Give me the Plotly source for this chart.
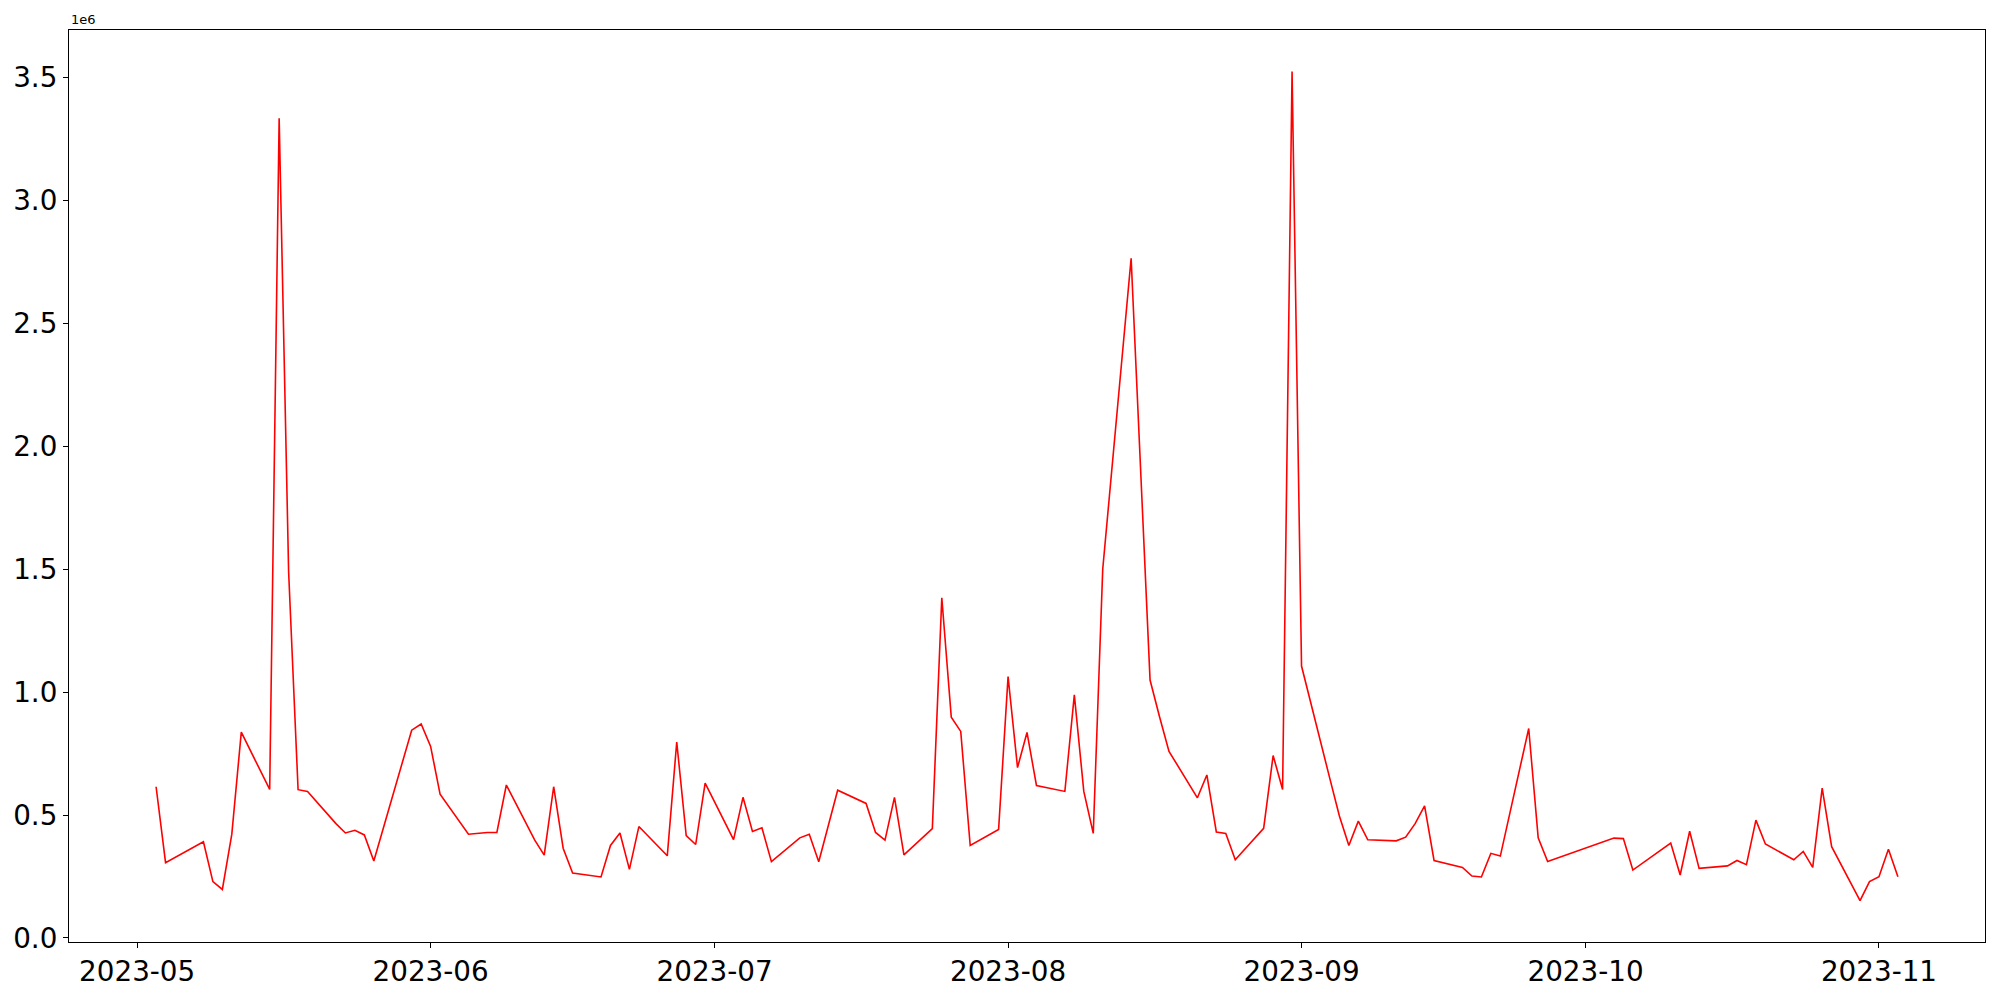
import pandas as pd
import plotly.graph_objects as go

dates = [
    "2023-05-03", "2023-05-04", "2023-05-08", "2023-05-09", "2023-05-10", "2023-05-11", "2023-05-12",
    "2023-05-15", "2023-05-16", "2023-05-17", "2023-05-18", "2023-05-19", "2023-05-22", "2023-05-23",
    "2023-05-24", "2023-05-25", "2023-05-26", "2023-05-30", "2023-05-31",
    "2023-06-01", "2023-06-02", "2023-06-05", "2023-06-07", "2023-06-08", "2023-06-09", "2023-06-12",
    "2023-06-13", "2023-06-14", "2023-06-15", "2023-06-16", "2023-06-19", "2023-06-20", "2023-06-21",
    "2023-06-22", "2023-06-23", "2023-06-26", "2023-06-27", "2023-06-28", "2023-06-29", "2023-06-30",
    "2023-07-03", "2023-07-04", "2023-07-05", "2023-07-06", "2023-07-07", "2023-07-10", "2023-07-11",
    "2023-07-12", "2023-07-13", "2023-07-14", "2023-07-17", "2023-07-18", "2023-07-19", "2023-07-20",
    "2023-07-21", "2023-07-24", "2023-07-25", "2023-07-26", "2023-07-27", "2023-07-28", "2023-07-31",
    "2023-08-01", "2023-08-02", "2023-08-03", "2023-08-04", "2023-08-07", "2023-08-08", "2023-08-09",
    "2023-08-10", "2023-08-11", "2023-08-14", "2023-08-16", "2023-08-17", "2023-08-18", "2023-08-21",
    "2023-08-22", "2023-08-23", "2023-08-24", "2023-08-25", "2023-08-28", "2023-08-29", "2023-08-30",
    "2023-08-31",
    "2023-09-01", "2023-09-04", "2023-09-05", "2023-09-06", "2023-09-07", "2023-09-08", "2023-09-11",
    "2023-09-12", "2023-09-13", "2023-09-14", "2023-09-15", "2023-09-18", "2023-09-19", "2023-09-20",
    "2023-09-21", "2023-09-22", "2023-09-25", "2023-09-26", "2023-09-27",
    "2023-10-04", "2023-10-05", "2023-10-06", "2023-10-10", "2023-10-11", "2023-10-12", "2023-10-13",
    "2023-10-16", "2023-10-17", "2023-10-18", "2023-10-19", "2023-10-20", "2023-10-23", "2023-10-24",
    "2023-10-25", "2023-10-26", "2023-10-27", "2023-10-30", "2023-10-31",
    "2023-11-01", "2023-11-02", "2023-11-03",
]

values = [
    615000, 306000, 391000, 229000, 197000, 422000, 837000,
    604000, 3335000, 1490000, 603000, 596000, 465000, 427000,
    438000, 419000, 313000, 845000, 870000,
    779000, 585000, 422000, 429000, 429000, 622000, 398000,
    337000, 615000, 365000, 264000, 248000, 376000, 427000,
    279000, 453000, 334000, 797000, 416000, 380000, 630000,
    400000, 572000, 433000, 448000, 310000, 407000, 422000,
    310000, 455000, 601000, 547000, 429000, 398000, 572000,
    338000, 445000, 1384000, 898000, 840000, 376000, 441000,
    1063000, 693000, 836000, 620000, 596000, 989000, 596000,
    425000, 1500000, 2765000, 1049000, 900000, 759000, 570000,
    663000, 431000, 425000, 318000, 446000, 742000, 604000,
    3525000,
    1106000, 647000, 496000, 376000, 475000, 399000, 395000,
    410000, 465000, 537000, 315000, 287000, 252000, 248000,
    344000, 333000, 852000, 407000, 311000,
    406000, 404000, 276000, 386000, 256000, 434000, 283000,
    293000, 315000, 298000, 479000, 382000, 318000, 352000,
    287000, 609000, 371000, 152000, 229000,
    249000, 361000, 249000,
]

x_tick_dates = ["2023-05-01", "2023-06-01", "2023-07-01", "2023-08-01",
                "2023-09-01", "2023-10-01", "2023-11-01"]
x_tick_labels = ["2023-05", "2023-06", "2023-07", "2023-08", "2023-09", "2023-10", "2023-11"]
y_tick_values = [0, 500000, 1000000, 1500000, 2000000, 2500000, 3000000, 3500000]
y_tick_labels = ["0.0", "0.5", "1.0", "1.5", "2.0", "2.5", "3.0", "3.5"]
offset_label = "1e6"

x = pd.to_datetime(dates)
xmin, xmax = x.min(), x.max()
xpad = (xmax - xmin) * 0.05
ymin, ymax = min(values), max(values)
ypad = (ymax - ymin) * 0.05

fig = go.Figure()
fig.add_trace(go.Scatter(
    x=x, y=values, mode="lines",
    line=dict(color="red", width=1.6),
    showlegend=False, hoverinfo="x+y",
))

font_family = "DejaVu Sans"
axis_common = dict(
    showgrid=False, zeroline=False,
    showline=True, linecolor="black", linewidth=1.1, mirror=True,
    ticks="outside", ticklen=5, tickwidth=1.1, tickcolor="black",
    tickfont=dict(family=font_family, size=27.8, color="black"),
)

fig.update_layout(
    width=2000, height=1000,
    margin=dict(l=69, r=15, t=30, b=53, pad=0),
    paper_bgcolor="white", plot_bgcolor="white",
    font=dict(family=font_family, color="black"),
    xaxis=dict(
        type="date",
        range=[xmin - xpad, xmax + xpad],
        tickmode="array", tickvals=pd.to_datetime(x_tick_dates), ticktext=x_tick_labels,
        **axis_common,
    ),
    yaxis=dict(
        range=[ymin - ypad, ymax + ypad],
        tickmode="array", tickvals=y_tick_values, ticktext=y_tick_labels,
        **axis_common,
    ),
    annotations=[dict(
        text=offset_label, xref="paper", yref="paper", x=0, y=1,
        xanchor="left", yanchor="bottom", showarrow=False, yshift=1,
        font=dict(family=font_family, size=13, color="black"),
    )],
)

fig.write_html("out.html", config={"displayModeBar": False},
               post_script="document.body.style.margin='0';")
